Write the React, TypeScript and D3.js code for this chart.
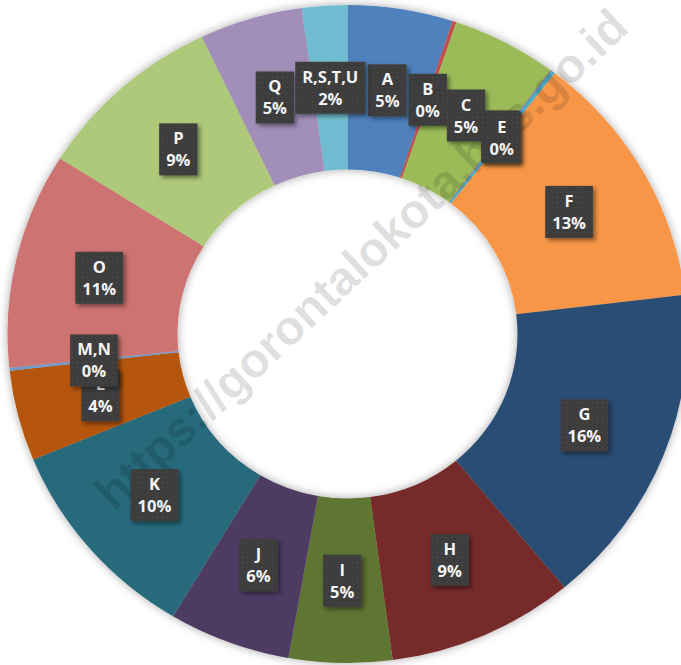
import { useRef, useEffect } from 'react';
import * as d3 from 'd3';

// Sector shares (percent)
const categories = ['A', 'B', 'C', 'D', 'E', 'F', 'G', 'H', 'I', 'J', 'K', 'L', 'M,N', 'O', 'P', 'Q', 'R,S,T,U'];
const shares = [5.0, 0.19, 5.01, 0.05, 0.19, 12.66, 15.9, 8.9, 4.9, 5.8, 10.2, 4.45, 0.14, 10.6, 9.0, 4.9, 2.15];
const colors = [
    '#4F81BD', '#C0504D', '#9BBB59', '#8064A2', '#4BACC6', '#F79646',
    '#2C4D75', '#772C2A', '#5F7530', '#4D3B62', '#276A7C', '#B65708',
    '#729ACA', '#CD7371', '#AFC97A', '#A18FBA', '#6FBDD1',
];
const watermark = 'https://gorontalokota.bps.go.id';

const W = 681;
const H = 665;

export default function App() {
    const svgRef = useRef<SVGSVGElement>(null);

    useEffect(() => {
        if (!svgRef.current) return;
        const root = d3.select(svgRef.current);
        root.selectAll('*').remove();

        const cx = 347.5;
        const cy = 334;
        const outer = 340;
        const inner = 170;
        const squash = 329 / 340;

        const data = categories.map((c, i) => ({ name: c, value: shares[i], color: colors[i] }));
        const total = d3.sum(data, d => d.value);

        const defs = root.append('defs');
        const shadow = defs.append('filter')
            .attr('id', 'ring-shadow')
            .attr('x', '-10%').attr('y', '-10%')
            .attr('width', '120%').attr('height', '120%');
        shadow.append('feDropShadow')
            .attr('dx', 0).attr('dy', 0)
            .attr('stdDeviation', 5)
            .attr('flood-color', '#000')
            .attr('flood-opacity', 0.35);

        const boxShadow = defs.append('filter')
            .attr('id', 'box-shadow')
            .attr('x', '-30%').attr('y', '-30%')
            .attr('width', '160%').attr('height', '160%');
        boxShadow.append('feDropShadow')
            .attr('dx', 2.5).attr('dy', 2.5)
            .attr('stdDeviation', 2)
            .attr('flood-color', '#000')
            .attr('flood-opacity', 0.45);

        const pattern = defs.append('pattern')
            .attr('id', 'dots')
            .attr('width', 5).attr('height', 5)
            .attr('patternUnits', 'userSpaceOnUse');
        pattern.append('rect').attr('width', 5).attr('height', 5).attr('fill', '#3e3e3e');
        pattern.append('rect').attr('x', 2).attr('y', 2).attr('width', 1).attr('height', 1).attr('fill', '#4d4d4d');

        root.append('rect').attr('width', W).attr('height', H).attr('fill', '#fff');

        const pie = d3.pie<{ name: string; value: number; color: string }>()
            .sort(null)
            .value(d => d.value);
        const arcs = pie(data);

        const arc = d3.arc<d3.PieArcDatum<{ name: string; value: number; color: string }>>()
            .innerRadius(inner)
            .outerRadius(outer);

        const ring = root.append('g')
            .attr('transform', `translate(${cx},${cy}) scale(1,${squash})`)
            .attr('filter', 'url(#ring-shadow)');

        ring.selectAll('path')
            .data(arcs)
            .enter()
            .append('path')
            .attr('d', arc)
            .attr('fill', d => d.data.color);

        // Watermark
        root.append('text')
            .attr('transform', `translate(364,262) rotate(-43)`)
            .attr('text-anchor', 'middle')
            .attr('dominant-baseline', 'middle')
            .attr('font-family', 'Liberation Sans, Arial, sans-serif')
            .attr('font-weight', 'bold')
            .attr('font-size', 48)
            .attr('fill', '#000')
            .attr('fill-opacity', 0.12)
            .text(watermark);

        // Data labels
        const labels = root.append('g')
            .attr('font-family', 'Open Sans, sans-serif')
            .attr('font-weight', 'bold')
            .attr('font-size', 16.5)
            .attr('fill', '#f4f4f4');

        arcs.forEach(d => {
            const [x, y0] = arc.centroid(d);
            const x0 = cx + x;
            const y = cy + y0 * squash;
            const pct = `${Math.round((d.data.value / total) * 100)}%`;
            const g = labels.append('g');
            const box = g.append('rect')
                .attr('fill', 'url(#dots)')
                .attr('filter', 'url(#box-shadow)');
            const t1 = g.append('text')
                .attr('x', x0)
                .attr('y', y - 5)
                .attr('text-anchor', 'middle')
                .text(d.data.name);
            const t2 = g.append('text')
                .attr('x', x0)
                .attr('y', y + 17)
                .attr('text-anchor', 'middle')
                .text(pct);
            const tw = Math.max(
                (t1.node() as SVGTextElement).getComputedTextLength(),
                (t2.node() as SVGTextElement).getComputedTextLength(),
            );
            const bw = tw + 14;
            const bh = 52;
            box.attr('x', x0 - bw / 2)
                .attr('y', y - 26)
                .attr('width', bw)
                .attr('height', bh);
        });
    }, []);

    return (
        <svg
            ref={svgRef}
            width={W}
            height={H}
            style={{ position: 'absolute', left: 0, top: 0, display: 'block' }}
        ></svg>
    );
}
